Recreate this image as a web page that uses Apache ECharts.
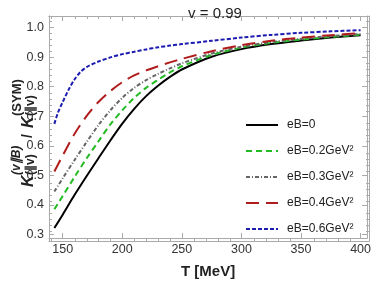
<!DOCTYPE html>
<html><head><meta charset="utf-8">
<script src="https://cdn.jsdelivr.net/npm/echarts@6/dist/echarts.min.js"></script>
<style>html,body{margin:0;padding:0;background:#fff}#c{width:374px;height:284px}</style>
</head><body><div id="c"></div>
<script>
const T = [143,150,160,170,180,190,200,210,220,230,240,250,275,300,325,350,375,400];
const eB0  = [0.322,0.367,0.434,0.497,0.558,0.618,0.675,0.725,0.768,0.803,0.833,0.858,0.901,0.927,0.944,0.956,0.966,0.974];
const eB02 = [0.385,0.430,0.495,0.557,0.615,0.672,0.720,0.762,0.796,0.823,0.848,0.869,0.907,0.932,0.948,0.959,0.968,0.976];
const eB03 = [0.445,0.490,0.552,0.612,0.670,0.720,0.762,0.796,0.822,0.843,0.862,0.879,0.912,0.935,0.951,0.962,0.971,0.978];
const eB04 = [0.513,0.567,0.641,0.700,0.748,0.785,0.815,0.838,0.855,0.869,0.882,0.894,0.920,0.940,0.955,0.966,0.974,0.981];
const Tblue = [143,146,150,155,160,165,170,180,190,200,210,220,230,240,250,275,300,325,350,375,400];
const eB06 = [0.674,0.712,0.748,0.790,0.825,0.850,0.866,0.885,0.899,0.910,0.918,0.926,0.933,0.939,0.944,0.955,0.966,0.975,0.982,0.987,0.991];
const seriesNames = ['eB=0','eB=0.2GeV²','eB=0.3GeV²','eB=0.4GeV²','eB=0.6GeV²'];
const xMajor = [150,200,250,300,350,400];
const xMinor = [140,160,170,180,190,210,220,230,240,260,270,280,290,310,320,330,340,360,370,380,390];
const yMajor = [0.3,0.4,0.5,0.6,0.7,0.8,0.9,1.0];
const yMinor = [0.32,0.34,0.36,0.38,0.42,0.44,0.46,0.48,0.52,0.54,0.56,0.58,0.62,0.64,0.66,0.68,0.72,0.74,0.76,0.78,0.82,0.84,0.86,0.88,0.92,0.94,0.96,0.98,1.02];

const XMIN=138.5, XMAX=405.5, YMIN=0.288, YMAX=1.039;
const frameColor='#aaaaaa', font='Liberation Sans';
const gridRect={left:49,right:5,top:16,bottom:43};

function xAx(grid,pos,ticks,len,labels){
  return {type:'value',gridIndex:grid,position:pos,min:XMIN,max:XMAX,
    axisLine:{show:true,lineStyle:{color:frameColor,width:1}},
    axisTick:{show:true,inside:true,length:len,customValues:ticks,lineStyle:{color:frameColor}},
    axisLabel:labels?{show:true,customValues:ticks,color:'#333',fontFamily:font,fontSize:12.5,margin:5}:{show:false},
    splitLine:{show:false},
    name: labels?'T [MeV]':'', nameLocation:'middle', nameGap:26,
    nameTextStyle:{fontFamily:font,fontWeight:'bold',fontSize:15,color:'#222'}};
}
function yAx(grid,pos,ticks,len,labels){
  return {type:'value',gridIndex:grid,position:pos,min:YMIN,max:YMAX,
    axisLine:{show:true,lineStyle:{color:frameColor,width:1}},
    axisTick:{show:true,inside:true,length:len,customValues:ticks,lineStyle:{color:frameColor}},
    axisLabel:labels?{show:true,customValues:ticks,color:'#333',fontFamily:font,fontSize:12.5,margin:5,formatter:v=>v.toFixed(1)}:{show:false},
    splitLine:{show:false}};
}
const styles=[
  {color:'#000000',type:'solid'},
  {color:'#22bb22',type:[6,4]},
  {color:'#666666',type:[4,2,1,2]},
  {color:'#b01c1c',type:[13,7]},
  {color:'#1c1cb0',type:[4,2]}
];
const xs=[T,T,T,T,Tblue];
const vals=[eB0,eB02,eB03,eB04,eB06];
const chart=echarts.init(document.getElementById('c'),null,{renderer:'canvas'});
const F=(s,it)=>(it?'italic ':'')+'bold '+s+'px "Liberation Sans"';
chart.setOption({
  animation:false,
  title:{text:'v = 0.99',left:210,top:1,textAlign:'center',textStyle:{fontFamily:font,fontWeight:'normal',fontSize:15,color:'#222'}},
  grid:[Object.assign({},gridRect),Object.assign({},gridRect)],
  xAxis:[xAx(0,'bottom',xMajor,5,true),xAx(0,'top',xMajor,5,false),xAx(1,'bottom',xMinor,3,false),xAx(1,'top',xMinor,3,false)],
  yAxis:[yAx(0,'left',yMajor,5,true),yAx(0,'right',yMajor,5,false),yAx(1,'left',yMinor,3,false),yAx(1,'right',yMinor,3,false)],
  legend:{orient:'vertical',left:245,top:119,padding:0,itemWidth:32,itemHeight:14,itemGap:14,
    itemStyle:{opacity:0,borderWidth:0},
    textStyle:{fontFamily:font,fontSize:12,color:'#222',padding:[0,0,0,4]},data:seriesNames},
  series:vals.map((v,i)=>({name:seriesNames[i],type:'line',xAxisIndex:0,yAxisIndex:0,
    data:xs[i].map((t,j)=>[t,v[j]]),smooth:0.3,showSymbol:false,symbol:'none',
    lineStyle:{color:styles[i].color,width:2,type:styles[i].type},itemStyle:{color:styles[i].color}})),
  graphic:[{type:'group',x:21,y:187,rotation:Math.PI/2,children:[
    {type:'text',x:0,y:0,style:{text:'K',font:F(16,1),fill:'#222',textBaseline:'alphabetic'}},
    {type:'text',x:12,y:-10,style:{text:'(v∥B)',font:F(12,1),fill:'#222',textBaseline:'alphabetic'}},
    {type:'text',x:12,y:4,style:{text:'(∥v)',font:F(12,0),fill:'#222',textBaseline:'alphabetic'}},
    {type:'text',x:49,y:0,style:{text:'/',font:F(14,0),fill:'#222',textBaseline:'alphabetic'}},
    {type:'text',x:59,y:0,style:{text:'K',font:F(16,1),fill:'#222',textBaseline:'alphabetic'}},
    {type:'text',x:71,y:-10,style:{text:'(SYM)',font:F(13,0),fill:'#222',textBaseline:'alphabetic'}},
    {type:'text',x:71,y:4,style:{text:'(∥v)',font:F(12,0),fill:'#222',textBaseline:'alphabetic'}}
  ]}]
});
</script></body></html>
